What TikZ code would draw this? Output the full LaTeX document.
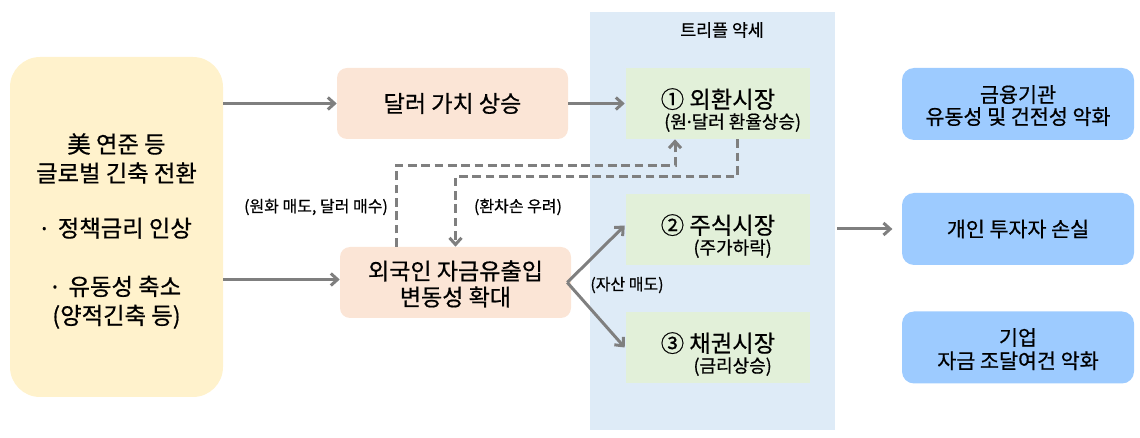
\documentclass[tikz,border=0pt]{standalone}
\usepackage{fontspec}
\setmainfont{Noto Sans CJK KR}[FakeBold=0.6]
\newfontfamily\latinf{Noto Sans}[FakeBold=0.6]
\usetikzlibrary{arrows.meta,calc}
\definecolor{cYel}{HTML}{FFF2CC}
\definecolor{cPeach}{HTML}{FBE5D6}
\definecolor{cBand}{HTML}{DEEBF7}
\definecolor{cGreen}{HTML}{E2F0D9}
\definecolor{cBlue}{HTML}{9DCBFF}
\definecolor{cArrow}{HTML}{7F7F7F}
\newcommand\mdot{{\latinf ·}}
\begin{document}
\begin{tikzpicture}[x=0.75pt,y=-0.75pt,
  box/.style={inner sep=0pt, align=center, text=black},
  inlab/.style={inner sep=0pt, align=center, text=black},
  leftbox/.style={box, fill=cYel, rounded corners=22.5pt, minimum width=213*0.75pt, minimum height=340*0.75pt},
  lefttxt/.style={inlab, yshift=-3pt, font=\fontsize{17.5}{21.75}\selectfont},
  peachbox/.style={box, fill=cPeach, rounded corners=7.5pt, minimum width=231*0.75pt, minimum height=71*0.75pt, font=\fontsize{17.3}{19.5}\selectfont},
  peachtxt/.style={inlab, yshift=-1.1pt, font=\fontsize{17.3}{19.5}\selectfont},
  greenbox/.style={box, fill=cGreen, minimum width=184*0.75pt, minimum height=71*0.75pt},
  greentxt/.style={inlab, yshift=-4.9pt, font=\fontsize{17.5}{17.5}\selectfont},
  bluebox/.style={box, fill=cBlue, rounded corners=9pt, minimum width=232*0.75pt, minimum height=72*0.75pt, font=\fontsize{15.5}{18}\selectfont},
  bluetxt/.style={inlab, yshift=-1.2pt, font=\fontsize{15.5}{18}\selectfont},
  band/.style={box, fill=cBand, minimum width=245*0.75pt, minimum height=418*0.75pt},
  lbl/.style={inner sep=0pt, font=\fontsize{12}{13}\selectfont},
  arr/.style={draw=cArrow, line width=2.25pt, -{Straight Barb[length=5pt,width=9pt]}},
  darr/.style={arr, dash pattern=on 6.5pt off 3.5pt}
]
\useasboundingbox (0,0) rectangle (1140,438);

\node[band] (band) at (712.5,221) {};
\node[inner sep=0pt, font=\fontsize{13}{15}\selectfont] (title) at (722,30) {트리플 약세};

\node[leftbox, label={[lefttxt]center:{美 연준 등\\글로벌 긴축 전환\\[19.5pt]\mdot\hspace{0.45em}정책금리 인상\\[22pt]\mdot\hspace{0.45em}유동성 축소\\(양적긴축 등)}}] (L) at (116.5,227) {};

\node[peachbox] (A) at (452.5,103.5) {달러 가치 상승};
\node[peachbox, label={[peachtxt]center:{외국인 자금유출입\\변동성 확대}}] (B) at (455.5,282.5) {};

\node[greenbox, label={[greentxt]center:{① 외환시장\\[-2.25pt]\hspace*{22pt}{\fontsize{13.5}{16}\selectfont (원\mdot 달러 환율상승)}}}] (M1) at (718,103.5) {};
\node[greenbox, label={[greentxt]center:{② 주식시장\\[-2.25pt]\hspace*{22pt}{\fontsize{13.5}{16}\selectfont (주가하락)}}}] (M2) at (718,229.5) {};
\node[greenbox, label={[greentxt]center:{③ 채권시장\\[-2.25pt]\hspace*{22pt}{\fontsize{13.5}{16}\selectfont (금리상승)}}}] (M3) at (718,347.5) {};

\node[bluebox, label={[bluetxt]center:{금융기관\\[-1.5pt]유동성 및 건전성 악화}}] (R1) at (1018,104) {};
\node[bluebox] (R2) at (1018,229) {개인 투자자 손실};
\node[bluebox, label={[bluetxt]center:{기업\\[-0.5pt]자금 조달여건 악화}}] (R3) at (1018,347.5) {};

% solid arrows
\draw[arr] (L.east |- A.west) -- (A.west);
\draw[arr] ($(L.east |- B.west)+(0,-3)$) -- ($(B.west)+(0,-3)$);
\draw[arr] (A.east) -- ([xshift=-0.75pt]M1.west);
\draw[arr] ([xshift=-3pt]B.east) -- ([xshift=-0.75pt,yshift=3pt]M2.west);
\draw[arr] ([xshift=-3pt]B.east) -- ([xshift=-0.75pt]M3.west);
\draw[arr] ([xshift=1.5pt]band.east |- R2.west) -- ([xshift=-7pt]R2.west);

% dashed arrows
\draw[darr] ([xshift=-44.6pt]B.north) |- ($(M1.south)+(-43,26)$) -- ([xshift=-32.25pt]M1.south);
\draw[darr] ([xshift=14.25pt]M1.south) |- ($(B.north)+(0,-70)$) -- (B.north);

% labels
\node[lbl] (l1) at (316,207) {(원화 매도, 달러 매수)};
\node[lbl] (l2) at (518,207) {(환차손 우려)};
\node[lbl] (l3) at (627,285) {(자산 매도)};
\end{tikzpicture}
\end{document}
